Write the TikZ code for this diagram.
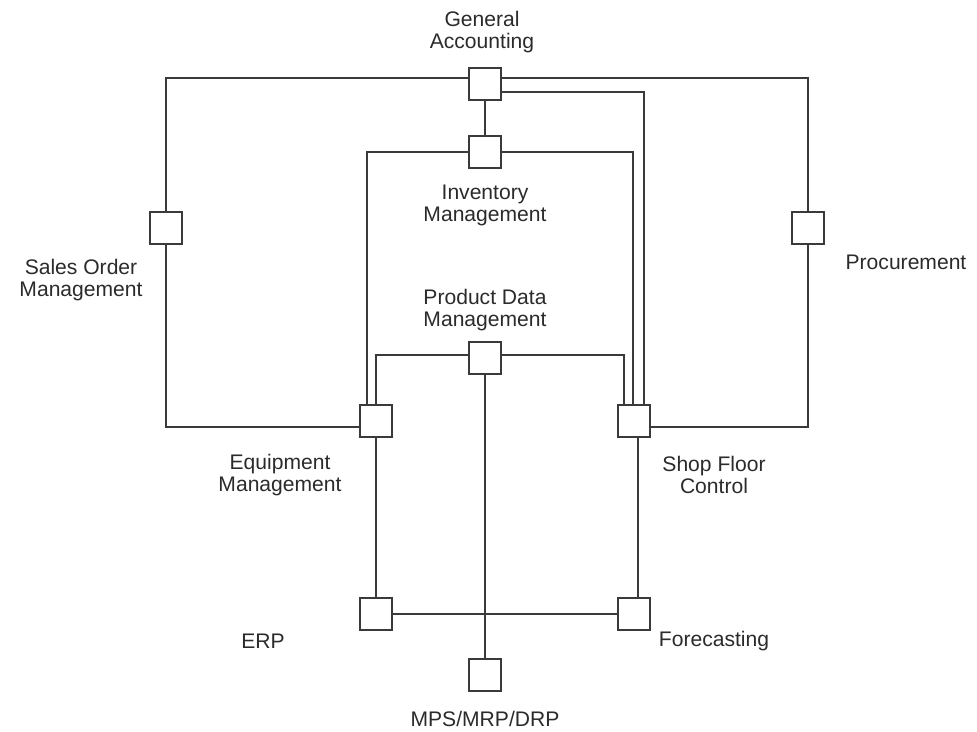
\documentclass[tikz,border=0pt]{standalone}
\usepackage{fontspec}
\setmainfont{Liberation Sans}
\usetikzlibrary{shadows}
\definecolor{ink}{HTML}{2B2B2B}
\definecolor{wire}{HTML}{3A3A3A}
\tikzset{
  module/.style={draw=wire,fill=white,line width=1pt,minimum size=0.64cm,
    inner sep=0pt,drop shadow={opacity=0.25,shadow xshift=0.6pt,shadow yshift=-0.6pt}},
  link/.style={wire,line width=0.9pt},
  caption/.style={ink,align=center,font=\fontsize{12}{12.6}\selectfont}
}
\begin{document}
\begin{tikzpicture}[x=0.02cm,y=-0.02cm]
  \useasboundingbox (0,0) rectangle (977,731);
  % the modules
  \foreach \nm/\x/\y in {ga/485/84, inv/485/152, sales/166/228, proc/808/228,
      pdm/485/358, eq/376/421, sfc/634/421, erp/376/614, fc/634/614, mps/485/675}
    \node[module] (\nm) at (\x,\y) {};
  % their names
  \foreach \x/\y/\lab in {482/32/{General\\Accounting}, 485/205/{Inventory\\Management},
      81/280/{Sales Order\\Management}, 906/262/{Procurement},
      485/310/{Product Data\\Management}, 280/475/{Equipment\\Management},
      714/475/{Shop Floor\\Control}, 263/641/{ERP}, 714/641/{Forecasting},
      485/719/{MPS/MRP/DRP}}
    \node[caption] (l-\x-\y) at (\x,\y) {\lab};
  % links
  \draw[link] (sales.north) |- ([yshift=0.12cm]ga.west);
  \draw[link] ([yshift=0.12cm]ga.east) -| (proc.north);
  \draw[link] ([yshift=-0.16cm]ga.east) -| ([xshift=0.2cm]sfc.north);
  \draw[link] (ga.south) -- (inv.north);
  \draw[link] (inv.west) -| ([xshift=-0.18cm]eq.north);
  \draw[link] (inv.east) -| ([xshift=-0.02cm]sfc.north);
  \draw[link] ([yshift=0.06cm]pdm.west) -| (eq.north);
  \draw[link] ([yshift=0.06cm]pdm.east) -| ([xshift=-0.2cm]sfc.north);
  \draw[link] (pdm.south) -- (mps.north);
  \draw[link] ([yshift=-0.12cm]eq.west) -| (sales.south);
  \draw[link] ([yshift=-0.12cm]sfc.east) -| (proc.south);
  \draw[link] (eq.south) -- (erp.north);
  \draw[link] ([xshift=0.08cm]sfc.south) -- ([xshift=0.08cm]fc.north);
  \draw[link] (erp.east) -- (fc.west);
\end{tikzpicture}
\end{document}
